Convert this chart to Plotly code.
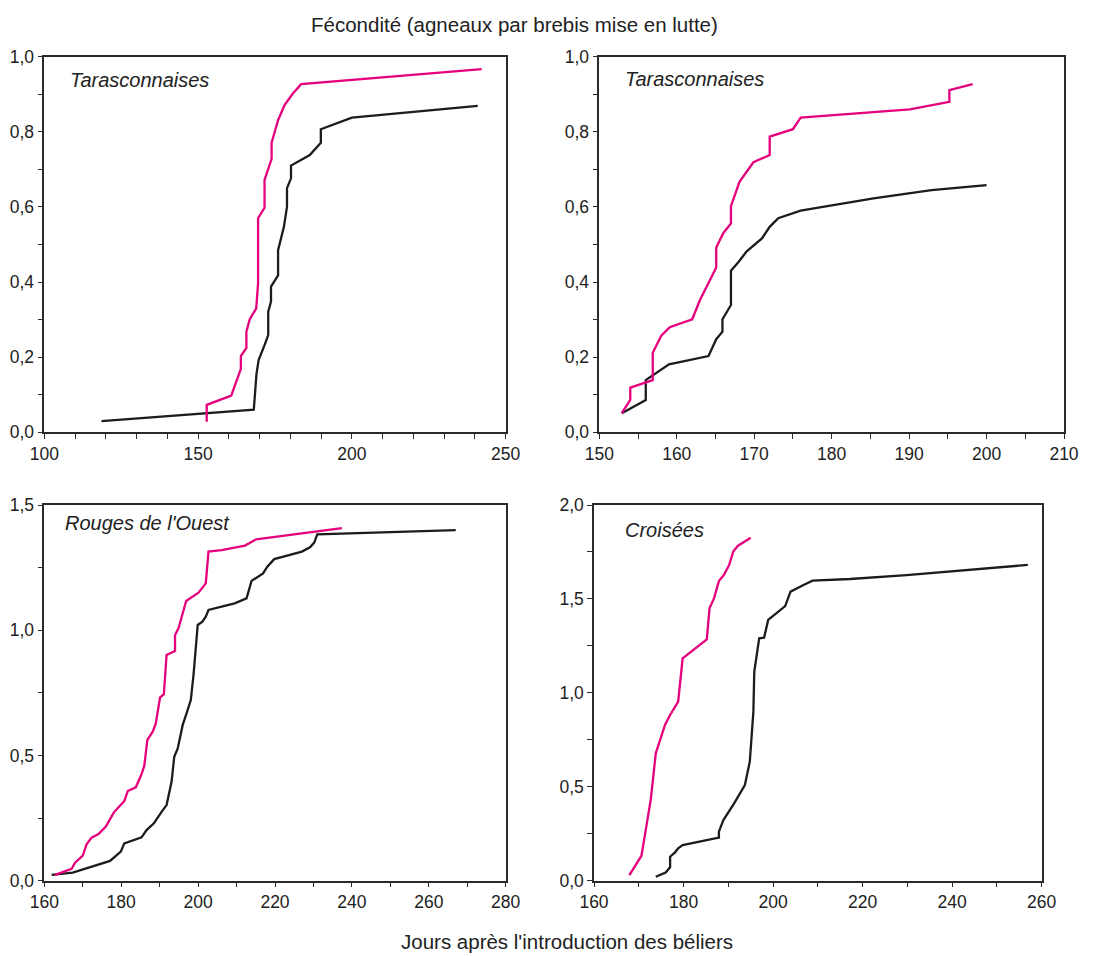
import plotly.graph_objects as go

# Tarasconnaises, first batch (days after ram introduction, cumulative lambs per ewe)
tar1_pink_x = [152.8, 152.8, 160.8, 163.9, 163.9, 165.7, 165.7, 166.8, 168.9, 169.5, 169.5, 171.6,
               171.6, 173.9, 173.9, 176.0, 178.1, 180.8, 183.5, 242.2]
tar1_pink_y = [0.028, 0.073, 0.098, 0.169, 0.203, 0.225, 0.268, 0.301, 0.330, 0.397, 0.570, 0.598,
               0.672, 0.728, 0.771, 0.831, 0.871, 0.902, 0.927, 0.967]
tar1_black_x = [118.6, 168.1, 169.0, 169.7, 171.6, 172.8, 172.8, 173.7, 173.7, 176.0, 176.0, 177.9,
                178.9, 178.9, 180.2, 180.2, 186.3, 189.9, 189.9, 200.0, 240.9]
tar1_black_y = [0.030, 0.060, 0.157, 0.193, 0.232, 0.259, 0.321, 0.348, 0.388, 0.418, 0.485, 0.547,
                0.601, 0.650, 0.676, 0.710, 0.738, 0.771, 0.807, 0.838, 0.869]

# Tarasconnaises, second batch
tar2_pink_x = [152.9, 154.0, 154.0, 156.9, 156.9, 158.0, 159.1, 162.0, 163.0, 165.1, 165.1, 166.0,
               167.0, 167.0, 168.1, 169.9, 172.0, 172.0, 175.0, 176.0, 190.1, 192.3, 195.2, 195.2, 198.2]
tar2_pink_y = [0.051, 0.086, 0.119, 0.139, 0.212, 0.257, 0.280, 0.301, 0.352, 0.439, 0.492, 0.530,
               0.556, 0.602, 0.667, 0.719, 0.738, 0.787, 0.807, 0.838, 0.860, 0.869, 0.880, 0.911, 0.927]
tar2_black_x = [152.9, 156.0, 156.0, 157.0, 159.0, 164.1, 165.1, 165.9, 165.9, 167.0, 167.0, 168.0,
                169.0, 171.0, 172.0, 173.1, 176.0, 185.4, 192.9, 200.0]
tar2_black_y = [0.051, 0.086, 0.139, 0.153, 0.181, 0.203, 0.248, 0.268, 0.301, 0.339, 0.430, 0.454,
                0.481, 0.516, 0.547, 0.570, 0.590, 0.623, 0.645, 0.658]

# Rouges de l'Ouest
rou_pink_x = [162.8, 167.1, 168.0, 170.0, 171.0, 172.3, 174.1, 176.0, 178.1, 180.8, 181.7, 183.8,
              185.2, 186.0, 186.8, 188.2, 189.0, 190.1, 191.1, 191.8, 194.0, 194.0, 194.9, 196.9,
              200.1, 202.0, 202.7, 206.1, 212.2, 215.1, 237.4]
rou_pink_y = [0.023, 0.047, 0.072, 0.100, 0.145, 0.172, 0.186, 0.216, 0.273, 0.318, 0.358, 0.373,
              0.422, 0.458, 0.562, 0.595, 0.628, 0.731, 0.745, 0.901, 0.917, 0.981, 1.008, 1.117,
              1.150, 1.187, 1.314, 1.320, 1.338, 1.363, 1.408]
rou_black_x = [161.9, 167.4, 177.1, 179.9, 180.8, 185.3, 186.6, 188.5, 190.5, 191.8, 193.1, 193.8,
               194.7, 196.0, 197.0, 198.1, 198.8, 199.9, 201.1, 202.0, 202.7, 209.5, 212.6, 213.9,
               216.9, 218.0, 219.8, 227.0, 229.1, 230.2, 231.0, 267.0]
rou_black_y = [0.023, 0.032, 0.079, 0.116, 0.149, 0.173, 0.202, 0.229, 0.275, 0.302, 0.395, 0.495,
               0.528, 0.622, 0.668, 0.721, 0.821, 1.021, 1.034, 1.054, 1.081, 1.107, 1.127, 1.197,
               1.227, 1.254, 1.284, 1.314, 1.331, 1.350, 1.383, 1.400]

# Croisées
cro_pink_x = [167.9, 168.8, 170.6, 171.8, 172.7, 173.8, 175.9, 177.0, 178.8, 179.8, 185.2, 185.8,
              186.8, 187.9, 189.0, 190.2, 191.1, 192.1, 195.0]
cro_pink_y = [0.030, 0.066, 0.133, 0.305, 0.435, 0.678, 0.832, 0.882, 0.953, 1.184, 1.285, 1.450,
              1.503, 1.595, 1.627, 1.681, 1.752, 1.782, 1.826]
cro_black_x = [173.8, 176.0, 177.0, 177.0, 178.1, 178.8, 179.8, 187.9, 187.9, 188.9, 191.3, 193.7,
               194.8, 195.6, 195.8, 196.9, 198.0, 198.9, 202.7, 203.9, 206.8, 208.8, 217.2, 229.8, 256.9]
cro_black_y = [0.021, 0.044, 0.071, 0.128, 0.151, 0.172, 0.190, 0.229, 0.261, 0.323, 0.412, 0.509,
               0.634, 0.900, 1.113, 1.290, 1.294, 1.388, 1.462, 1.539, 1.574, 1.597, 1.606, 1.627, 1.681]

panel_names = ["Tarasconnaises", "Tarasconnaises", "Rouges de l'Ouest", "Croisées"]
title_text = "Fécondité (agneaux par brebis mise en lutte)"
xlabel_text = "Jours après l'introduction des béliers"

PINK = "#e5007d"
BLACK = "#1c1c1c"
AXIS = "#2a2a2a"
FONT = "Liberation Sans, Arial, sans-serif"

W, H = 1096, 956


def px_x(v):
    return v / W


def px_y(v):
    return 1 - v / H


# plot-area boxes in pixels: (left, right, top, bottom)
boxes = [
    (44.3, 505.7, 56.7, 432.3),
    (599.3, 1064.0, 56.7, 432.3),
    (44.3, 505.7, 505.0, 880.7),
    (594.0, 1041.7, 505.0, 880.7),
]
x_ranges = [[100, 250], [150, 210], [160, 280], [160, 260]]
x_dticks = [50, 10, 20, 20]
x_minor = [10, 5, 10, 10]
y_ranges = [[0, 1.0], [0, 1.0], [0, 1.5], [0, 2.0]]
y_dticks = [0.2, 0.2, 0.5, 0.5]
y_minor = [0.1, 0.1, 0.25, 0.25]

series = [
    (tar1_pink_x, tar1_pink_y, tar1_black_x, tar1_black_y),
    (tar2_pink_x, tar2_pink_y, tar2_black_x, tar2_black_y),
    (rou_pink_x, rou_pink_y, rou_black_x, rou_black_y),
    (cro_pink_x, cro_pink_y, cro_black_x, cro_black_y),
]

fig = go.Figure()
layout = {}
for i, (px_, py_, bx_, by_) in enumerate(series):
    n = "" if i == 0 else str(i + 1)
    xa, ya = "x" + n, "y" + n
    fig.add_trace(go.Scatter(x=bx_, y=by_, mode="lines", xaxis=xa, yaxis=ya,
                             line=dict(color=BLACK, width=2.3), showlegend=False))
    fig.add_trace(go.Scatter(x=px_, y=py_, mode="lines", xaxis=xa, yaxis=ya,
                             line=dict(color=PINK, width=2.3), showlegend=False))
    l, r, t, b = boxes[i]
    common = dict(showline=True, mirror=True, linecolor=AXIS, linewidth=1.5,
                  showgrid=False, zeroline=False, ticks="outside", ticklen=5,
                  tickwidth=1.3, tickcolor=AXIS, automargin=False,
                  tickfont=dict(family=FONT, size=17.5, color="#222222"))
    layout["xaxis" + n] = dict(
        domain=[px_x(l), px_x(r)], range=x_ranges[i], anchor=ya,
        tick0=0, dtick=x_dticks[i], tickformat="d",
        minor=dict(dtick=x_minor[i], ticks="outside", ticklen=5, tickwidth=1.3, tickcolor=AXIS),
        **common)
    layout["yaxis" + n] = dict(
        domain=[px_y(b), px_y(t)], range=y_ranges[i], anchor=xa,
        tick0=0, dtick=y_dticks[i], tickformat=".1f",
        minor=dict(dtick=y_minor[i], ticks="outside", ticklen=5, tickwidth=1.3, tickcolor=AXIS),
        **common)

fig.update_layout(**layout)

label_pos = [(67.7, 79.5), (623.3, 79.0), (63.0, 523.0), (623.0, 530.0)]
annotations = []
for name, (lx, ly) in zip(panel_names, label_pos):
    annotations.append(dict(text="<i>" + name + "</i>", x=px_x(lx), y=px_y(ly),
                            xref="paper", yref="paper", xanchor="left", yanchor="middle",
                            showarrow=False, font=dict(family=FONT, size=20, color="#222222")))
annotations.append(dict(text=title_text, x=px_x(514), y=px_y(11), xref="paper", yref="paper",
                        xanchor="center", yanchor="top", showarrow=False,
                        font=dict(family=FONT, size=20.5, color="#222222")))
annotations.append(dict(text=xlabel_text, x=px_x(566.7), y=px_y(955), xref="paper", yref="paper",
                        xanchor="center", yanchor="bottom", showarrow=False,
                        font=dict(family=FONT, size=20.5, color="#222222")))

fig.update_layout(
    width=W, height=H,
    margin=dict(l=0, r=0, t=0, b=0, pad=0, autoexpand=False),
    paper_bgcolor="white", plot_bgcolor="white",
    separators=",.",
    annotations=annotations,
    font=dict(family=FONT),
)

fig.write_html("out.html")
